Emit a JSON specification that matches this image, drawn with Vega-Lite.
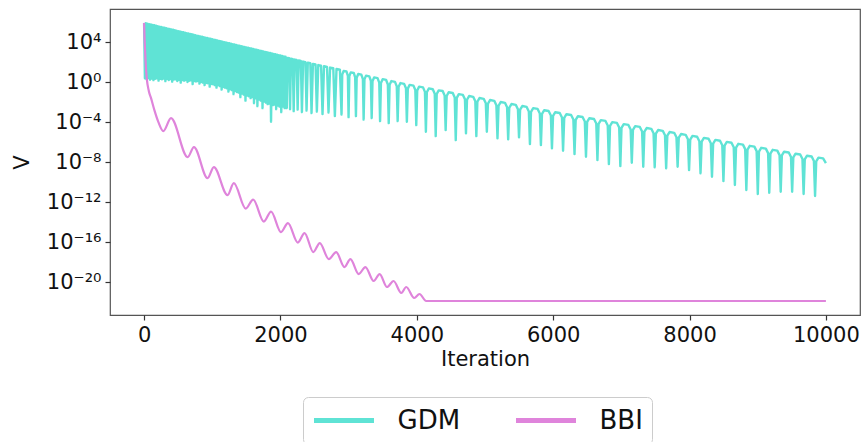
{
"$schema": "https://vega.github.io/schema/vega-lite/v6.json",
"width": 750, "height": 306,
"autosize": {"type": "none"},
"padding": {"left": 110, "top": 9, "right": 1, "bottom": 127},
"background": "white",
"config": {
"font": "DejaVu Sans",
"view": {"stroke": "#555555", "strokeWidth": 1.2},
"axis": {"grid": false, "domain": false, "tickColor": "#333333", "tickWidth": 1.2, "tickSize": 5, "labelFont": "DejaVu Sans", "labelFontSize": 21, "labelColor": "#111111", "titleFont": "DejaVu Sans", "titleFontSize": 21, "titleFontWeight": "normal", "titleColor": "#111111"}
},
"datasets": {
"gdm": [
{"iter":0,"logV":5.93},{"iter":12,"logV":0.38},{"iter":25,"logV":5.89},{"iter":37,"logV":0.30},{"iter":50,"logV":5.85},{"iter":62,"logV":0.40},{"iter":75,"logV":5.81},{"iter":87,"logV":0.25},{"iter":100,"logV":5.77},{"iter":112,"logV":0.36},{"iter":125,"logV":5.73},{"iter":137,"logV":0.20},{"iter":150,"logV":5.69},{"iter":162,"logV":0.34},{"iter":175,"logV":5.64},{"iter":187,"logV":0.38},{"iter":200,"logV":5.60},{"iter":212,"logV":0.15},{"iter":225,"logV":5.56},{"iter":237,"logV":0.33},{"iter":250,"logV":5.52},{"iter":262,"logV":0.28},{"iter":275,"logV":5.48},{"iter":287,"logV":0.36},{"iter":300,"logV":5.44},{"iter":312,"logV":0.10},{"iter":325,"logV":5.40},{"iter":337,"logV":0.31},{"iter":350,"logV":5.36},{"iter":362,"logV":0.22},{"iter":375,"logV":5.32},{"iter":387,"logV":0.30},{"iter":400,"logV":5.28},{"iter":412,"logV":0.05},{"iter":425,"logV":5.24},{"iter":437,"logV":0.26},{"iter":450,"logV":5.19},{"iter":462,"logV":0.29},{"iter":475,"logV":5.15},{"iter":487,"logV":0.12},{"iter":500,"logV":5.11},{"iter":512,"logV":0.24},{"iter":525,"logV":5.07},{"iter":537,"logV":-0.05},{"iter":550,"logV":5.03},{"iter":562,"logV":0.20},{"iter":575,"logV":4.99},{"iter":587,"logV":0.15},{"iter":600,"logV":4.95},{"iter":612,"logV":0.22},{"iter":625,"logV":4.91},{"iter":637,"logV":0.02},{"iter":650,"logV":4.87},{"iter":662,"logV":0.14},{"iter":675,"logV":4.83},{"iter":687,"logV":0.18},{"iter":700,"logV":4.79},{"iter":712,"logV":-0.20},{"iter":725,"logV":4.75},{"iter":737,"logV":0.10},{"iter":750,"logV":4.71},{"iter":762,"logV":0.06},{"iter":775,"logV":4.66},{"iter":787,"logV":0.12},{"iter":800,"logV":4.62},{"iter":812,"logV":-0.15},{"iter":825,"logV":4.58},{"iter":837,"logV":0.02},{"iter":850,"logV":4.54},{"iter":862,"logV":-0.05},{"iter":875,"logV":4.50},{"iter":887,"logV":-0.30},{"iter":900,"logV":4.46},{"iter":912,"logV":-0.08},{"iter":925,"logV":4.42},{"iter":937,"logV":-0.12},{"iter":950,"logV":4.38},{"iter":962,"logV":-0.45},{"iter":975,"logV":4.34},{"iter":987,"logV":-0.18},{"iter":1000,"logV":4.30},{"iter":1012,"logV":-0.22},{"iter":1025,"logV":4.26},{"iter":1037,"logV":-0.30},{"iter":1050,"logV":4.22},{"iter":1062,"logV":-0.55},{"iter":1075,"logV":4.17},{"iter":1087,"logV":-0.32},{"iter":1100,"logV":4.13},{"iter":1112,"logV":-0.40},{"iter":1125,"logV":4.09},{"iter":1137,"logV":-0.75},{"iter":1150,"logV":4.05},{"iter":1162,"logV":-0.48},{"iter":1175,"logV":4.01},{"iter":1187,"logV":-0.55},{"iter":1200,"logV":3.97},{"iter":1212,"logV":-0.62},{"iter":1225,"logV":3.93},{"iter":1237,"logV":-0.95},{"iter":1250,"logV":3.89},{"iter":1262,"logV":-0.72},{"iter":1275,"logV":3.85},{"iter":1287,"logV":-0.80},{"iter":1300,"logV":3.81},{"iter":1312,"logV":-1.20},{"iter":1325,"logV":3.77},{"iter":1337,"logV":-0.90},{"iter":1350,"logV":3.73},{"iter":1362,"logV":-0.98},{"iter":1375,"logV":3.68},{"iter":1387,"logV":-1.05},{"iter":1400,"logV":3.64},{"iter":1412,"logV":-1.50},{"iter":1425,"logV":3.60},{"iter":1437,"logV":-1.15},{"iter":1450,"logV":3.56},{"iter":1462,"logV":-1.25},{"iter":1475,"logV":3.52},{"iter":1487,"logV":-1.85},{"iter":1500,"logV":3.48},{"iter":1512,"logV":-1.35},{"iter":1525,"logV":3.44},{"iter":1537,"logV":-1.42},{"iter":1550,"logV":3.40},{"iter":1562,"logV":-1.60},{"iter":1575,"logV":3.36},{"iter":1587,"logV":-1.50},{"iter":1600,"logV":3.32},{"iter":1612,"logV":-2.10},{"iter":1625,"logV":3.28},{"iter":1637,"logV":-1.62},{"iter":1650,"logV":3.24},{"iter":1662,"logV":-2.40},{"iter":1675,"logV":3.19},{"iter":1687,"logV":-1.75},{"iter":1700,"logV":3.15},{"iter":1712,"logV":-1.85},{"iter":1725,"logV":3.11},{"iter":1737,"logV":-2.60},{"iter":1750,"logV":3.07},{"iter":1762,"logV":-1.95},{"iter":1775,"logV":3.03},{"iter":1787,"logV":-2.05},{"iter":1800,"logV":2.99},{"iter":1812,"logV":-2.20},{"iter":1825,"logV":2.95},{"iter":1837,"logV":-2.15},{"iter":1850,"logV":2.91},{"iter":1862,"logV":-3.95},{"iter":1875,"logV":2.87},{"iter":1887,"logV":-2.30},{"iter":1900,"logV":2.83},{"iter":1912,"logV":-2.25},{"iter":1925,"logV":2.79},{"iter":1937,"logV":-2.70},{"iter":1950,"logV":2.75},{"iter":1962,"logV":-2.35},{"iter":1975,"logV":2.70},{"iter":1987,"logV":-2.45},{"iter":2000,"logV":2.66},{"iter":2012,"logV":-3.00},{"iter":2025,"logV":2.62},{"iter":2037,"logV":-2.45},{"iter":2050,"logV":2.58},{"iter":2062,"logV":-2.60},{"iter":2075,"logV":2.54},
{"iter":2093,"logV":-2.6},{"iter":2105,"logV":2.43},{"iter":2129,"logV":2.39},{"iter":2141,"logV":-2.7},{"iter":2154,"logV":2.35},{"iter":2181,"logV":2.31},{"iter":2194,"logV":-2.9},{"iter":2208,"logV":2.26},{"iter":2237,"logV":2.22},{"iter":2252,"logV":-2.75},{"iter":2268,"logV":2.17},{"iter":2299,"logV":2.12},{"iter":2315,"logV":-3.0},{"iter":2332,"logV":2.06},{"iter":2366,"logV":2.01},{"iter":2383,"logV":-2.85},{"iter":2401,"logV":1.95},{"iter":2438,"logV":1.89},{"iter":2456,"logV":-3.1},{"iter":2476,"logV":1.83},{"iter":2515,"logV":1.77},{"iter":2534,"logV":-2.95},{"iter":2555,"logV":1.71},{"iter":2596,"logV":1.65},{"iter":2617,"logV":-3.2},{"iter":2639,"logV":1.59},{"iter":2683,"logV":1.52},{"iter":2705,"logV":-3.05},{"iter":2728,"logV":1.46},{"iter":2775,"logV":1.39},{"iter":2798,"logV":-3.4},{"iter":2822,"logV":1.32},{"iter":2872,"logV":1.24},{"iter":2896,"logV":-3.25},
{"iter":2906,"logV":0.75},{"iter":2927,"logV":1.13},{"iter":2968,"logV":1.07},{"iter":2989,"logV":0.63},{"iter":2999,"logV":-3.5},
{"iter":3010,"logV":0.60},{"iter":3031,"logV":0.98},{"iter":3075,"logV":0.92},{"iter":3096,"logV":0.48},{"iter":3107,"logV":-3.4},
{"iter":3118,"logV":0.44},{"iter":3141,"logV":0.82},{"iter":3186,"logV":0.75},{"iter":3209,"logV":0.31},{"iter":3220,"logV":-3.75},
{"iter":3232,"logV":0.28},{"iter":3255,"logV":0.65},{"iter":3303,"logV":0.58},{"iter":3326,"logV":0.14},{"iter":3338,"logV":-3.6},
{"iter":3350,"logV":0.10},{"iter":3375,"logV":0.48},{"iter":3424,"logV":0.41},{"iter":3449,"logV":-0.04},{"iter":3461,"logV":-3.9},
{"iter":3474,"logV":-0.08},{"iter":3499,"logV":0.30},{"iter":3550,"logV":0.22},{"iter":3575,"logV":-0.23},{"iter":3588,"logV":-4.1},
{"iter":3601,"logV":-0.26},{"iter":3627,"logV":0.11},{"iter":3680,"logV":0.03},{"iter":3706,"logV":-0.42},{"iter":3719,"logV":-3.9},
{"iter":3733,"logV":-0.46},{"iter":3760,"logV":-0.09},{"iter":3814,"logV":-0.17},{"iter":3841,"logV":-0.61},{"iter":3854,"logV":-3.97},
{"iter":3868,"logV":-0.65},{"iter":3895,"logV":-0.27},{"iter":3951,"logV":-0.35},{"iter":3978,"logV":-0.79},{"iter":3992,"logV":-4.3},
{"iter":4006,"logV":-0.83},{"iter":4034,"logV":-0.45},{"iter":4091,"logV":-0.52},{"iter":4119,"logV":-0.97},{"iter":4133,"logV":-4.97},
{"iter":4147,"logV":-1.01},{"iter":4176,"logV":-0.63},{"iter":4234,"logV":-0.71},{"iter":4263,"logV":-1.16},{"iter":4277,"logV":-5.4},
{"iter":4292,"logV":-1.19},{"iter":4321,"logV":-0.82},{"iter":4379,"logV":-0.89},{"iter":4408,"logV":-1.34},{"iter":4423,"logV":-4.8},
{"iter":4438,"logV":-1.38},{"iter":4467,"logV":-1.01},{"iter":4527,"logV":-1.08},{"iter":4556,"logV":-1.53},{"iter":4571,"logV":-5.8},
{"iter":4586,"logV":-1.57},{"iter":4616,"logV":-1.20},{"iter":4676,"logV":-1.28},{"iter":4706,"logV":-1.72},{"iter":4721,"logV":-5.13},
{"iter":4736,"logV":-1.76},{"iter":4767,"logV":-1.39},{"iter":4827,"logV":-1.47},{"iter":4858,"logV":-1.92},{"iter":4873,"logV":-5.4},
{"iter":4888,"logV":-1.96},{"iter":4919,"logV":-1.59},{"iter":4981,"logV":-1.67},{"iter":5012,"logV":-2.12},{"iter":5027,"logV":-4.97},
{"iter":5043,"logV":-2.16},{"iter":5074,"logV":-1.79},{"iter":5136,"logV":-1.87},{"iter":5167,"logV":-2.32},{"iter":5183,"logV":-5.63},
{"iter":5199,"logV":-2.36},{"iter":5230,"logV":-1.99},{"iter":5293,"logV":-2.07},{"iter":5324,"logV":-2.52},{"iter":5340,"logV":-5.73},
{"iter":5356,"logV":-2.56},{"iter":5388,"logV":-2.19},{"iter":5451,"logV":-2.27},{"iter":5483,"logV":-2.72},{"iter":5499,"logV":-5.53},
{"iter":5515,"logV":-2.76},{"iter":5547,"logV":-2.39},{"iter":5611,"logV":-2.48},{"iter":5643,"logV":-2.93},{"iter":5659,"logV":-6.2},
{"iter":5675,"logV":-2.97},{"iter":5707,"logV":-2.60},{"iter":5772,"logV":-2.68},{"iter":5804,"logV":-3.13},{"iter":5820,"logV":-6.3},
{"iter":5836,"logV":-3.17},{"iter":5869,"logV":-2.81},{"iter":5933,"logV":-2.89},{"iter":5966,"logV":-3.34},{"iter":5982,"logV":-6.63},
{"iter":5998,"logV":-3.38},{"iter":6031,"logV":-3.01},{"iter":6096,"logV":-3.09},{"iter":6129,"logV":-3.54},{"iter":6145,"logV":-6.87},
{"iter":6162,"logV":-3.58},{"iter":6195,"logV":-3.21},{"iter":6263,"logV":-3.29},{"iter":6296,"logV":-3.74},{"iter":6313,"logV":-7.2},
{"iter":6330,"logV":-3.78},{"iter":6363,"logV":-3.41},{"iter":6431,"logV":-3.49},{"iter":6464,"logV":-3.94},{"iter":6481,"logV":-7.47},
{"iter":6498,"logV":-3.98},{"iter":6531,"logV":-3.61},{"iter":6599,"logV":-3.69},{"iter":6632,"logV":-4.14},{"iter":6649,"logV":-7.8},
{"iter":6666,"logV":-4.17},{"iter":6699,"logV":-3.80},{"iter":6767,"logV":-3.88},{"iter":6800,"logV":-4.33},{"iter":6817,"logV":-8.2},
{"iter":6834,"logV":-4.37},{"iter":6867,"logV":-4.00},{"iter":6935,"logV":-4.08},{"iter":6968,"logV":-4.53},{"iter":6985,"logV":-8.4},
{"iter":7002,"logV":-4.57},{"iter":7035,"logV":-4.20},{"iter":7103,"logV":-4.28},{"iter":7136,"logV":-4.73},{"iter":7153,"logV":-8.07},
{"iter":7170,"logV":-4.77},{"iter":7203,"logV":-4.40},{"iter":7271,"logV":-4.48},{"iter":7304,"logV":-4.93},{"iter":7321,"logV":-8.47},
{"iter":7338,"logV":-4.96},{"iter":7371,"logV":-4.59},{"iter":7439,"logV":-4.67},{"iter":7472,"logV":-5.12},{"iter":7489,"logV":-8.53},
{"iter":7506,"logV":-5.16},{"iter":7539,"logV":-4.79},{"iter":7607,"logV":-4.87},{"iter":7640,"logV":-5.32},{"iter":7657,"logV":-8.63},
{"iter":7674,"logV":-5.36},{"iter":7707,"logV":-4.99},{"iter":7775,"logV":-5.07},{"iter":7808,"logV":-5.52},{"iter":7825,"logV":-8.47},
{"iter":7842,"logV":-5.56},{"iter":7875,"logV":-5.19},{"iter":7943,"logV":-5.27},{"iter":7976,"logV":-5.72},{"iter":7993,"logV":-8.8},
{"iter":8010,"logV":-5.75},{"iter":8043,"logV":-5.38},{"iter":8111,"logV":-5.46},{"iter":8144,"logV":-5.91},{"iter":8161,"logV":-9.13},
{"iter":8178,"logV":-5.95},{"iter":8211,"logV":-5.58},{"iter":8279,"logV":-5.66},{"iter":8312,"logV":-6.11},{"iter":8329,"logV":-9.47},
{"iter":8346,"logV":-6.15},{"iter":8379,"logV":-5.78},{"iter":8447,"logV":-5.86},{"iter":8480,"logV":-6.31},{"iter":8497,"logV":-9.9},
{"iter":8514,"logV":-6.35},{"iter":8547,"logV":-5.98},{"iter":8615,"logV":-6.06},{"iter":8648,"logV":-6.51},{"iter":8665,"logV":-10.3},
{"iter":8682,"logV":-6.54},{"iter":8715,"logV":-6.17},{"iter":8783,"logV":-6.25},{"iter":8816,"logV":-6.70},{"iter":8833,"logV":-10.8},
{"iter":8850,"logV":-6.74},{"iter":8883,"logV":-6.37},{"iter":8951,"logV":-6.45},{"iter":8984,"logV":-6.90},{"iter":9001,"logV":-11.2},
{"iter":9018,"logV":-6.94},{"iter":9051,"logV":-6.57},{"iter":9119,"logV":-6.65},{"iter":9152,"logV":-7.10},{"iter":9169,"logV":-11.07},
{"iter":9186,"logV":-7.14},{"iter":9219,"logV":-6.77},{"iter":9287,"logV":-6.85},{"iter":9320,"logV":-7.30},{"iter":9337,"logV":-10.97},
{"iter":9354,"logV":-7.33},{"iter":9387,"logV":-6.96},{"iter":9455,"logV":-7.04},{"iter":9488,"logV":-7.49},{"iter":9505,"logV":-10.97},
{"iter":9522,"logV":-7.53},{"iter":9555,"logV":-7.16},{"iter":9623,"logV":-7.24},{"iter":9656,"logV":-7.69},{"iter":9673,"logV":-11.2},
{"iter":9690,"logV":-7.73},{"iter":9723,"logV":-7.36},{"iter":9791,"logV":-7.44},{"iter":9824,"logV":-7.89},{"iter":9841,"logV":-11.4},
{"iter":9858,"logV":-7.92},{"iter":9891,"logV":-7.55},{"iter":9959,"logV":-7.63},{"iter":10000,"logV":-8.1}
],
"bbi": [
{"iter":0,"logV":5.93},{"iter":8,"logV":4.2},{"iter":20,"logV":2.3},{"iter":39,"logV":0.4},{"iter":70,"logV":-0.9},{"iter":102,"logV":-1.6},{"iter":151,"logV":-2.8},{"iter":210,"logV":-4.0},{"iter":282,"logV":-4.9},{"iter":395,"logV":-3.6},{"iter":639,"logV":-7.5},{"iter":731,"logV":-6.5},{"iter":931,"logV":-9.6},{"iter":1023,"logV":-8.5},{"iter":1224,"logV":-11.3},{"iter":1316,"logV":-10.1},{"iter":1491,"logV":-12.65},{"iter":1600,"logV":-11.75},{"iter":1756,"logV":-13.95},{"iter":1862,"logV":-12.95},{"iter":2008,"logV":-15.0},{"iter":2110,"logV":-14.1},{"iter":2255,"logV":-16.05},{"iter":2354,"logV":-15.1},{"iter":2481,"logV":-17.0},{"iter":2577,"logV":-16.1},{"iter":2709,"logV":-17.7},{"iter":2817,"logV":-17.0},{"iter":2939,"logV":-18.5},{"iter":3026,"logV":-17.7},{"iter":3148,"logV":-19.2},{"iter":3246,"logV":-18.5},{"iter":3367,"logV":-19.9},{"iter":3455,"logV":-19.2},{"iter":3563,"logV":-20.5},{"iter":3659,"logV":-19.9},{"iter":3772,"logV":-21.1},{"iter":3845,"logV":-20.5},{"iter":3962,"logV":-21.6},{"iter":4039,"logV":-21.2},{"iter":4137,"logV":-21.9},{"iter":10000,"logV":-21.9}
]
},
"layer": [
{"data": {"name": "gdm"},
 "mark": {"type": "line", "strokeWidth": 2.4, "strokeJoin": "round", "interpolate": "linear"},
 "encoding": {
  "x": {"field": "iter", "type": "quantitative", "scale": {"domain": [-500, 10500], "nice": false, "zero": false}, "axis": {"values": [0, 2000, 4000, 6000, 8000, 10000], "format": "d", "title": "Iteration", "labelPadding": 4, "titlePadding": 3}},
  "y": {"field": "logV", "type": "quantitative", "scale": {"domain": [-23.3, 7.32], "nice": false, "zero": false}, "axis": {"values": [4, 0, -4, -8, -12, -16, -20], "labelPadding": 4, "labelExpr": "datum.value == 4 ? '10⁴' : datum.value == 0 ? '10⁰' : datum.value == -4 ? '10⁻⁴' : datum.value == -8 ? '10⁻⁸' : datum.value == -12 ? '10⁻¹²' : datum.value == -16 ? '10⁻¹⁶' : '10⁻²⁰'", "title": "V", "titleX": -88, "titleY": 153, "titleAngle": -90, "titleAlign": "center", "titleBaseline": "middle"}},
  "color": {"datum": "GDM", "type": "nominal", "scale": {"domain": ["GDM", "BBI"], "range": ["#5fe3d5", "#df84db"]},
   "legend": {"orient": "none", "legendX": 193, "legendY": 388, "direction": "horizontal", "title": null, "symbolType": "stroke", "symbolSize": 3600, "symbolStrokeWidth": 5, "clipHeight": 30, "labelFont": "DejaVu Sans", "labelFontSize": 26, "labelColor": "#111111", "labelOffset": 21, "columnPadding": 53, "padding": 8.5, "strokeColor": "#cccccc", "fillColor": "white", "cornerRadius": 5}}
 }},
{"data": {"name": "bbi"},
 "mark": {"type": "line", "strokeWidth": 2.2, "interpolate": "monotone"},
 "encoding": {
  "x": {"field": "iter", "type": "quantitative"},
  "y": {"field": "logV", "type": "quantitative"},
  "color": {"datum": "BBI", "type": "nominal"}
 }}
]
}
